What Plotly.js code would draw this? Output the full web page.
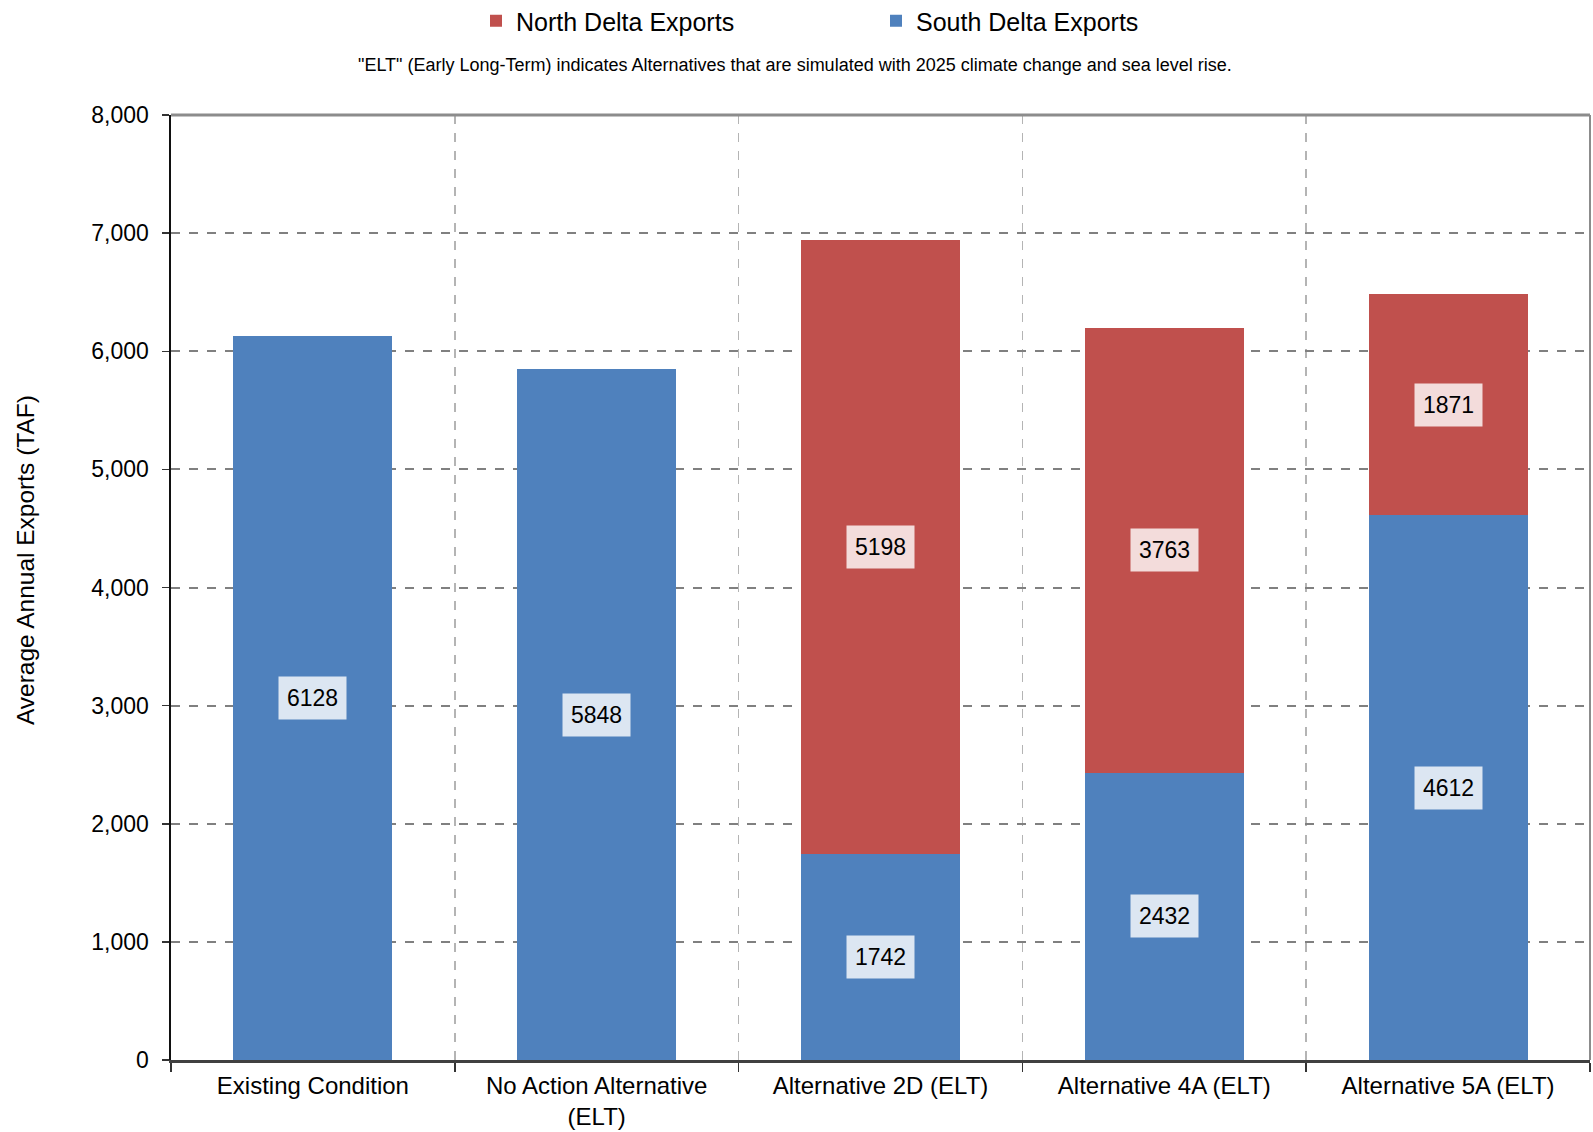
<!DOCTYPE html>
<html>
<head>
<meta charset="utf-8">
<script src="https://cdn.plot.ly/plotly-3.0.1.min.js"></script>
<style>html,body{margin:0;padding:0;background:#fff;}#chart{width:1593px;height:1132px;}</style>
</head>
<body>
<div id="chart"></div>
<script>
const categories = ["Existing Condition", "No Action Alternative<br>(ELT)", "Alternative 2D (ELT)", "Alternative 4A (ELT)", "Alternative 5A (ELT)"];
const southDelta = [6128, 5848, 1742, 2432, 4612];
const northDelta = [null, null, 5198, 3763, 1871];
const yTickVals = [0, 1000, 2000, 3000, 4000, 5000, 6000, 7000, 8000];
const yTickText = ["0", "1,000", "2,000", "3,000", "4,000", "5,000", "6,000", "7,000", "8,000"];
const subtitle = '"ELT" (Early Long-Term) indicates Alternatives that are simulated with 2025 climate change and sea level rise.';
const yTitle = "Average Annual Exports (TAF)";

const FONT = "Liberation Sans, Arial, sans-serif";
const blue = "#4F81BD", red = "#C0504D";

const traces = [
  {type: "bar", name: "South Delta Exports", x: categories, y: southDelta, marker: {color: blue}, hoverinfo: "y"},
  {type: "bar", name: "North Delta Exports", x: categories, y: northDelta, marker: {color: red}, hoverinfo: "y"}
];

const annotations = [];
categories.forEach((c, i) => {
  const s = southDelta[i];
  if (s != null) annotations.push({x: c, y: s / 2, xref: "x", yref: "y", text: String(s), showarrow: false,
    bgcolor: "rgba(255,255,255,0.8)", borderpad: 8, font: {family: FONT, size: 23, color: "#000"}});
  const n = northDelta[i];
  if (n != null) annotations.push({x: c, y: s + n / 2, xref: "x", yref: "y", text: String(n), showarrow: false,
    bgcolor: "rgba(255,255,255,0.8)", borderpad: 8, font: {family: FONT, size: 23, color: "#000"}});
});
annotations.push({xref: "paper", yref: "paper", x: 0.44, y: 1.0529, xanchor: "center", yanchor: "middle",
  text: subtitle, showarrow: false, font: {family: FONT, size: 18, color: "#000"}});
annotations.push({xref: "paper", yref: "paper", x: -0.1029, y: 0.529, xanchor: "center", yanchor: "middle",
  textangle: -90, text: yTitle, showarrow: false, font: {family: FONT, size: 24.5, color: "#000"}});

const layout = {
  width: 1593, height: 1132,
  margin: {l: 171, r: 3, t: 115, b: 72},
  paper_bgcolor: "#fff", plot_bgcolor: "#fff",
  barmode: "stack", bargap: 0.44,
  font: {family: FONT, color: "#000"},
  showlegend: true,
  legend: {orientation: "h", xref: "container", yref: "container", x: 476 / 1593, xanchor: "left", y: 1 - 21 / 1132, yanchor: "middle",
    traceorder: "reversed", font: {family: FONT, size: 25, color: "#000"}, entrywidth: 355, itemwidth: 30},
  xaxis: {type: "category", tickson: "boundaries", showgrid: true, gridcolor: "#b4b4b4", griddash: "dash", gridwidth: 1.5,
    ticks: "outside", ticklen: 9, tickcolor: "#333", tickwidth: 1.5, ticklabelstandoff: 2,
    showline: true, linecolor: "#404040", linewidth: 3,
    tickfont: {family: FONT, size: 24, color: "#000"}, automargin: false},
  yaxis: {range: [0, 8000], tickvals: yTickVals, ticktext: yTickText, showgrid: true, gridcolor: "#808080", griddash: "dash", gridwidth: 2,
    zeroline: false, ticks: "outside", ticklen: 7, tickcolor: "#333", tickwidth: 1.5, ticklabelstandoff: 8,
    showline: true, linecolor: "#111", linewidth: 2.5,
    tickfont: {family: FONT, size: 23, color: "#000"}, automargin: false},
  shapes: [
    {type: "line", xref: "paper", yref: "paper", x0: 0, x1: 1, y0: 1, y1: 1, line: {color: "#8c8c8c", width: 3}},
    {type: "line", xref: "paper", yref: "paper", x0: 1, x1: 1, y0: 0, y1: 1, line: {color: "#8c8c8c", width: 2}}
  ],
  annotations: annotations
};

Plotly.newPlot("chart", traces, layout, {displayModeBar: false, staticPlot: true});
</script>
</body>
</html>
